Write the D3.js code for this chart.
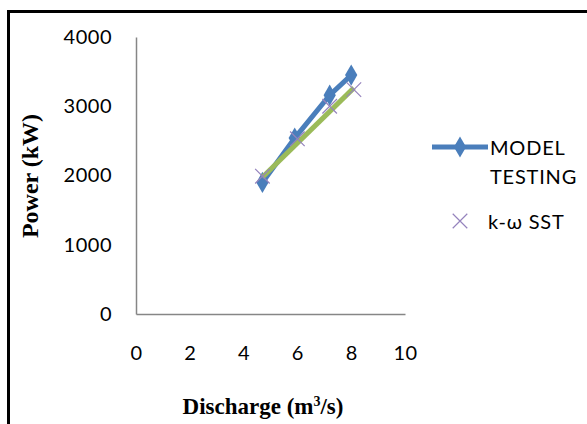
<!DOCTYPE html>
<html><head><meta charset="utf-8">
<script src="https://cdn.jsdelivr.net/npm/d3@7"></script>
<style>body{margin:0;background:#fff}svg{display:block}</style>
</head><body>
<svg id="c" width="587" height="424"></svg>
<script>
const xTicks = [0, 2, 4, 6, 8, 10];
const yTicks = [0, 1000, 2000, 3000, 4000];
const modelX = [4.7, 5.9, 7.2, 8.0];
const modelY = [1900, 2540, 3160, 3450];
const sstX = [4.7, 6.0, 7.2, 8.1];
const sstY = [1990, 2530, 3000, 3240];
const trendX = [4.7, 8.1];
const trendY = [1975, 3265];
const legendLabels = ["MODEL", "TESTING", "k-ω SST"];

const svg = d3.select("#c");
svg.append("rect").attr("x", 8.5).attr("y", 11.5).attr("width", 600).attr("height", 430)
  .attr("fill", "none").attr("stroke", "#000").attr("stroke-width", 3);

const x = d3.scaleLinear().domain([0, 10]).range([136, 405]);
const y = d3.scaleLinear().domain([0, 4000]).range([314, 37]);
const lf = "Lato, 'Open Sans', sans-serif";
const sf = "'Liberation Serif', 'Times New Roman', serif";

const xAxis = svg.append("g").attr("transform", "translate(0,314)")
  .call(d3.axisBottom(x).tickValues(xTicks).tickFormat(d3.format("d")).tickSize(0).tickPadding(32));
const yAxis = svg.append("g").attr("transform", "translate(136,0)")
  .call(d3.axisLeft(y).tickValues(yTicks).tickFormat(d3.format("d")).tickSize(0).tickPadding(24));
[xAxis, yAxis].forEach(a => {
  a.select(".domain").attr("stroke", "#868686").attr("stroke-width", 1.5);
  a.selectAll("text").attr("font-family", lf)
    .attr("font-size", 20).attr("fill", "#000").attr("letter-spacing", 0.5);
});

// model testing line
const pts = modelX.map((d, i) => [d, modelY[i]]);
svg.append("path").datum(pts)
  .attr("d", d3.line().x(d => x(d[0])).y(d => y(d[1])))
  .attr("fill", "none").attr("stroke", "#4a7ebb").attr("stroke-width", 5);
const diamond = d3.symbol().type(d3.symbolDiamond).size(130);
svg.selectAll(".dm").data(pts).join("path")
  .attr("transform", d => `translate(${x(d[0])},${y(d[1])})`)
  .attr("d", diamond).attr("fill", "#4a7ebb");

// trend
const tpts = trendX.map((d, i) => [d, trendY[i]]);
svg.append("path").datum(tpts)
  .attr("d", d3.line().x(d => x(d[0])).y(d => y(d[1])))
  .attr("fill", "none").attr("stroke", "#9bbb59").attr("stroke-width", 5);

// sst X markers
const spts = sstX.map((d, i) => [d, sstY[i]]);
const cross = d3.symbol().type(d3.symbolTimes).size(140);
svg.selectAll(".sx").data(spts).join("path")
  .attr("transform", d => `translate(${x(d[0])},${y(d[1])})`)
  .attr("d", cross).attr("fill", "none").attr("stroke", "#9583bd").attr("stroke-width", 1.2);

// legend
svg.append("line").attr("x1", 432).attr("x2", 488).attr("y1", 147).attr("y2", 147)
  .attr("stroke", "#4a7ebb").attr("stroke-width", 5);
svg.append("path").attr("transform", "translate(460,147)").attr("d", diamond).attr("fill", "#4a7ebb");
svg.append("path").attr("transform", "translate(460,221)").attr("d", cross)
  .attr("fill", "none").attr("stroke", "#9583bd").attr("stroke-width", 1.2);
[[legendLabels[0], 490, 155], [legendLabels[1], 490, 184], [legendLabels[2], 488, 229]].forEach(([t, tx, ty]) =>
  svg.append("text").attr("x", tx).attr("y", ty).text(t).attr("font-family", lf)
    .attr("font-size", 20).attr("letter-spacing", 0.8));

// axis titles
svg.append("text").attr("transform", "translate(38,176) rotate(-90)").attr("text-anchor", "middle")
  .attr("font-family", sf).attr("font-weight", "bold").attr("font-size", 24).text("Power (kW)");
const xt = svg.append("text").attr("x", 263).attr("y", 414).attr("text-anchor", "middle")
  .attr("font-family", sf).attr("font-weight", "bold").attr("font-size", 23);
xt.append("tspan").text("Discharge (m");
xt.append("tspan").attr("dy", -8).attr("font-size", 14).text("3");
xt.append("tspan").attr("dy", 8).text("/s)");
</script>
</body></html>
